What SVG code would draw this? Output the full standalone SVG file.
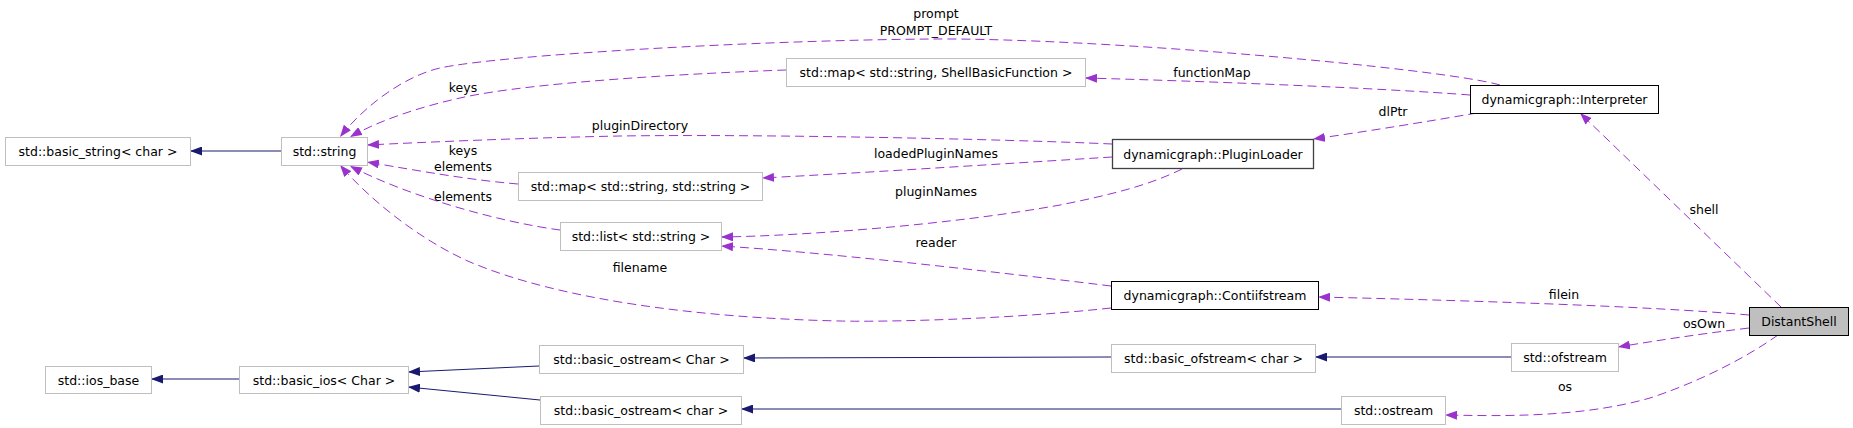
<svg xmlns="http://www.w3.org/2000/svg" width="1853" height="428" viewBox="0 0 1853 428">
<style>
  .node rect { fill: #ffffff; stroke: #bfbfbf; stroke-width: 1; }
  .node.doc rect { stroke: #000000; }
  .node.dark rect { stroke: #404040; stroke-width: 1.3; }
  .node.self rect { fill: #bfbfbf; stroke: #000000; }
  text { font-family: "DejaVu Sans", "Liberation Sans", sans-serif; font-size: 12.5px; fill: #000000; }
  .node text { text-anchor: middle; }
  .lbl { text-anchor: middle; }
  .use { fill: none; stroke: #9a32cd; stroke-width: 1; stroke-dasharray: 9,5; marker-end: url(#ah-use); }
  .inh { fill: none; stroke: #191970; stroke-width: 1; marker-end: url(#ah-inh); }
</style>
<defs>
  <marker id="ah-use" viewBox="0 0 12 9" refX="12" refY="4.5" markerWidth="12" markerHeight="9" markerUnits="userSpaceOnUse" orient="auto">
    <path d="M0,0 L12,4.5 L0,9 z" fill="#9a32cd"/>
  </marker>
  <marker id="ah-inh" viewBox="0 0 12 9" refX="12" refY="4.5" markerWidth="12" markerHeight="9" markerUnits="userSpaceOnUse" orient="auto">
    <path d="M0,0 L12,4.5 L0,9 z" fill="#191970"/>
  </marker>
</defs>
<rect width="1853" height="428" fill="#ffffff"/>
<g id="edges">
  <path class="use" d="M1500,85 C1440,68 1100,38 936,39 C760,40 500,55 440,68 C405,76 365,105 340,137"/>
  <path class="use" d="M786,70 C700,73 530,82 460,98 C420,107 380,120 350,137"/>
  <path class="use" d="M1470,95 C1380,88 1200,81 1085,78"/>
  <path class="use" d="M1477,113 C1430,121 1370,131 1313,139"/>
  <path class="use" d="M1112,144 C1000,139 760,134 620,136 C520,138 430,142 367,145"/>
  <path class="use" d="M1112,157 C1000,164 860,173 762,178"/>
  <path class="use" d="M518,184 C470,180 420,171 367,162"/>
  <path class="use" d="M560,230 C500,222 410,197 350,166"/>
  <path class="use" d="M1182,169 C1150,185 1110,195 1060,205 C950,225 800,236 721,237"/>
  <path class="use" d="M1111,286 C980,270 820,252 721,246"/>
  <path class="use" d="M1111,308 C1000,320 880,322 840,321 C700,318 560,300 470,262 C420,240 370,200 340,165"/>
  <path class="use" d="M1781,307 L1580,113"/>
  <path class="use" d="M1749,315 C1650,306 1450,300 1318,297"/>
  <path class="use" d="M1749,328 C1700,334 1660,340 1618,347"/>
  <path class="use" d="M1778,335 C1740,362 1690,385 1650,398 C1580,418 1500,416 1445,415"/>
  <path class="inh" d="M281,151 L190,151"/>
  <path class="inh" d="M239,379 L151,379"/>
  <path class="inh" d="M539,366 L408,372"/>
  <path class="inh" d="M540,400 L408,387"/>
  <path class="inh" d="M1111,357 L743,358"/>
  <path class="inh" d="M1511,357 L1315,357"/>
  <path class="inh" d="M1341,409 L741,409"/>
  <text class="lbl" x="936" y="18">prompt</text>
  <text class="lbl" x="936" y="35">PROMPT_DEFAULT</text>
  <text class="lbl" x="463" y="92">keys</text>
  <text class="lbl" x="1212" y="77">functionMap</text>
  <text class="lbl" x="1393" y="116">dlPtr</text>
  <text class="lbl" x="640" y="130">pluginDirectory</text>
  <text class="lbl" x="463" y="155">keys</text>
  <text class="lbl" x="463" y="171">elements</text>
  <text class="lbl" x="936" y="158">loadedPluginNames</text>
  <text class="lbl" x="936" y="196">pluginNames</text>
  <text class="lbl" x="463" y="201">elements</text>
  <text class="lbl" x="1704" y="214">shell</text>
  <text class="lbl" x="936" y="247">reader</text>
  <text class="lbl" x="640" y="272">filename</text>
  <text class="lbl" x="1564" y="299">filein</text>
  <text class="lbl" x="1704" y="328">osOwn</text>
  <text class="lbl" x="1565" y="391">os</text>
</g>
<g id="n_basic_string" class="node"><rect x="5.5" y="137.5" width="185" height="28"/><text x="98" y="156">std::basic_string&lt; char &gt;</text></g>
<g id="n_string" class="node"><rect x="281.5" y="137.5" width="86" height="28"/><text x="324.5" y="156">std::string</text></g>
<g id="n_map_sbf" class="node"><rect x="786.5" y="58.5" width="299" height="28"/><text x="936" y="77">std::map&lt; std::string, ShellBasicFunction &gt;</text></g>
<g id="n_interpreter" class="node doc"><rect x="1470.5" y="85.5" width="188" height="28"/><text x="1564.5" y="104">dynamicgraph::Interpreter</text></g>
<g id="n_pluginloader" class="node dark"><rect x="1112.5" y="139.5" width="201" height="29"/><text x="1213" y="158.5">dynamicgraph::PluginLoader</text></g>
<g id="n_map_ss" class="node"><rect x="518.5" y="172.5" width="244" height="28"/><text x="640.5" y="191">std::map&lt; std::string, std::string &gt;</text></g>
<g id="n_list" class="node"><rect x="560.5" y="222.5" width="161" height="28"/><text x="641" y="241">std::list&lt; std::string &gt;</text></g>
<g id="n_contiifstream" class="node doc"><rect x="1111.5" y="281.5" width="207" height="28"/><text x="1215" y="300">dynamicgraph::Contiifstream</text></g>
<g id="n_ios_base" class="node"><rect x="45.5" y="366.5" width="106" height="27"/><text x="98.5" y="384.5">std::ios_base</text></g>
<g id="n_basic_ios" class="node"><rect x="239.5" y="366.5" width="169" height="27"/><text x="324" y="384.5">std::basic_ios&lt; Char &gt;</text></g>
<g id="n_basic_ostream_C" class="node"><rect x="539.5" y="345.5" width="204" height="28"/><text x="641.5" y="364">std::basic_ostream&lt; Char &gt;</text></g>
<g id="n_basic_ostream_c" class="node"><rect x="540.5" y="396.5" width="201" height="28"/><text x="641" y="415">std::basic_ostream&lt; char &gt;</text></g>
<g id="n_basic_ofstream" class="node"><rect x="1111.5" y="344.5" width="204" height="28"/><text x="1213.5" y="363">std::basic_ofstream&lt; char &gt;</text></g>
<g id="n_ofstream" class="node"><rect x="1511.5" y="343.5" width="107" height="28"/><text x="1565" y="362">std::ofstream</text></g>
<g id="n_ostream" class="node"><rect x="1341.5" y="396.5" width="104" height="28"/><text x="1393.5" y="415">std::ostream</text></g>
<g id="n_distantshell" class="node self"><rect x="1749.5" y="307.5" width="99" height="28"/><text x="1799" y="326">DistantShell</text></g>
</svg>
